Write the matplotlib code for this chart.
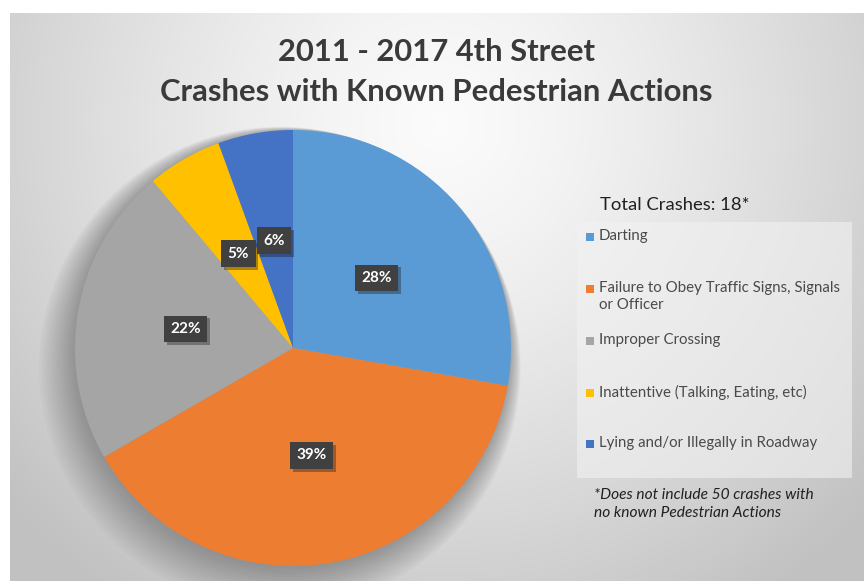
import numpy as np
import matplotlib.pyplot as plt
from matplotlib.patches import Rectangle, Circle
import matplotlib.patheffects as pe

plt.rcParams['font.family'] = ['Lato', 'DejaVu Sans']

categories = ['Darting', 'Failure to Obey Traffic Signs, Signals\nor Officer', 'Improper Crossing',
              'Inattentive (Talking, Eating, etc)', 'Lying and/or Illegally in Roadway']
crashes = [5, 7, 4, 1, 1]
pct_labels = ['28%', '39%', '22%', '5%', '6%']
colors = ['#5B9BD5', '#ED7D31', '#A5A5A5', '#FFC000', '#4472C4']

W, H = 864, 581
fig = plt.figure(figsize=(W / 100, H / 100), dpi=100)
fig.patch.set_facecolor('white')

# gray gradient panel
bg = fig.add_axes([10 / W, 0, (W - 10) / W, (H - 13) / H])
yy, xx = np.mgrid[0:568, 0:854]
d = np.sqrt(((xx - 430) / 520.0) ** 2 + ((yy - 110) / 520.0) ** 2)
g = np.clip(0.985 - 0.2 * d ** 1.3, 0.76, 1)
bg.imshow(np.dstack([g, g, g]), aspect='auto', extent=[0, 1, 0, 1], origin='upper')
bg.axis('off')

# pie
R = 218
cx, cy = 293, 348
ax = fig.add_axes([(cx - R) / W, (H - cy - R) / H, 2 * R / W, 2 * R / H])
for k in range(16):
    ax.add_patch(Circle((-0.004 * k, -0.006 * k), 1.0 + 0.007 * k, color='black',
                        alpha=0.02, zorder=0, clip_on=False, lw=0))
wedges, _ = ax.pie(crashes, colors=colors, startangle=90, counterclock=False,
                   wedgeprops=dict(linewidth=0))
for w in wedges:
    w.set_zorder(2)
for w, lab in zip(wedges, pct_labels):
    mid = np.deg2rad((w.theta1 + w.theta2) / 2)
    t = ax.text(0.5 * np.cos(mid), 0.5 * np.sin(mid), lab, ha='center', va='center',
                color='white', fontsize=11, fontweight='bold', zorder=5,
                bbox=dict(boxstyle='square,pad=0.42', fc='#404040', ec='none'))
    t.get_bbox_patch().set_path_effects([pe.SimplePatchShadow(offset=(2, -2), alpha=0.35), pe.Normal()])
ax.set_xlim(-1, 1)
ax.set_ylim(-1, 1)
ax.axis('off')

# title
fig.text(436 / W, 1 - 52 / H, '2011 - 2017 4th Street', ha='center', va='center',
         fontsize=22.3, fontweight='bold', color='#3a3a3a')
fig.text(436 / W, 1 - 92 / H, 'Crashes with Known Pedestrian Actions', ha='center', va='center',
         fontsize=22.3, fontweight='bold', color='#3a3a3a')

# legend
fig.text(600 / W, 1 - 205 / H, 'Total Crashes: 18*', ha='left', va='center',
         fontsize=13.3, color='#202020')
fig.patches.append(Rectangle((577 / W, 1 - 478 / H), 275 / W, 256 / H, transform=fig.transFigure,
                             fc='#f2f2f2', ec='none', alpha=0.6, zorder=1))
ys = [237, 289, 341, 393, 444]
for y, lab, c in zip(ys, categories, colors):
    fig.patches.append(Rectangle((586 / W, 1 - (y + 4) / H), 8 / W, 8 / H, transform=fig.transFigure,
                                 fc=c, ec='none', zorder=2))
    fig.text(599 / W, 1 - (y - 8) / H, lab, ha='left', va='top', fontsize=10.8,
             color='#4a4a4a', linespacing=1.3)

fig.text(594 / W, 1 - 504 / H, '*Does not include 50 crashes with\nno known Pedestrian Actions',
         ha='left', va='center', fontsize=11.2, style='italic', color='#202020', linespacing=1.35)

fig.savefig('out.png', dpi=100)
